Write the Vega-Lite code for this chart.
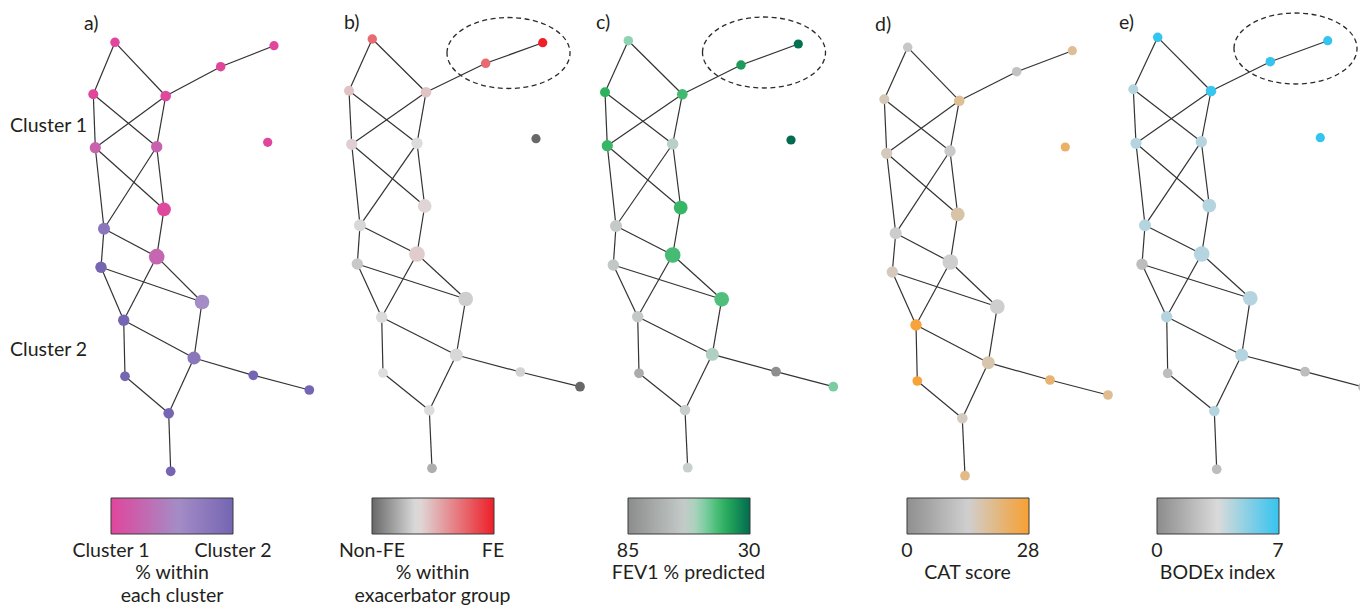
{
"$schema": "https://vega.github.io/schema/vega-lite/v6.json",
"width": 1360, "height": 615,
"autosize": {"type": "fit", "contains": "padding"},
"padding": 0,
"background": "white",
"config": {
  "view": {"stroke": null},
  "font": "Lato",
  "legend": {
    "gradientLength": 122, "gradientThickness": 36,
    "gradientStrokeColor": "#3a3a3a", "gradientStrokeWidth": 1,
    "labelFontSize": 1, "padding": 0
  }
},
"datasets": {
  "nodes": [
    {"p":"a","k":"a1","x":115,"y":42.3,"n":90,"v":0},
    {"p":"a","k":"a2","x":93.3,"y":94.3,"n":100,"v":0},
    {"p":"a","k":"a3","x":165.7,"y":96,"n":113,"v":0.02},
    {"p":"a","k":"a4","x":220.7,"y":66.7,"n":90,"v":0},
    {"p":"a","k":"a5","x":274,"y":45.7,"n":85,"v":0},
    {"p":"a","k":"a6","x":267.7,"y":142.3,"n":85,"v":0},
    {"p":"a","k":"a7","x":95.3,"y":147.7,"n":125,"v":0.21},
    {"p":"a","k":"a8","x":156.7,"y":146.7,"n":130,"v":0.23},
    {"p":"a","k":"a9","x":164,"y":209.3,"n":190,"v":0.02},
    {"p":"a","k":"a10","x":104,"y":228.7,"n":145,"v":0.8},
    {"p":"a","k":"a11","x":156.7,"y":256.7,"n":245,"v":0.26},
    {"p":"a","k":"a12","x":101,"y":267.3,"n":130,"v":1},
    {"p":"a","k":"a13","x":202,"y":302,"n":215,"v":0.55},
    {"p":"a","k":"a14","x":123.7,"y":320.3,"n":130,"v":1},
    {"p":"a","k":"a15","x":194,"y":358,"n":170,"v":0.8},
    {"p":"a","k":"a16","x":125,"y":376.3,"n":95,"v":1},
    {"p":"a","k":"a17","x":253.3,"y":375.3,"n":95,"v":1},
    {"p":"a","k":"a18","x":309.3,"y":390,"n":95,"v":1},
    {"p":"a","k":"a19","x":168.7,"y":413.3,"n":113,"v":1},
    {"p":"a","k":"a20","x":170.7,"y":471.3,"n":95,"v":1},

    {"p":"b","k":"b1","x":372.3,"y":39,"n":90,"v":0.75},
    {"p":"b","k":"b2","x":349,"y":90.7,"n":100,"v":0.456},
    {"p":"b","k":"b3","x":426,"y":92.3,"n":113,"v":0.46},
    {"p":"b","k":"b4","x":485.7,"y":63.3,"n":90,"v":0.75},
    {"p":"b","k":"b5","x":542.7,"y":42.7,"n":85,"v":1},
    {"p":"b","k":"b6","x":536,"y":138.7,"n":85,"v":0},
    {"p":"b","k":"b7","x":351.7,"y":144.3,"n":125,"v":0.42},
    {"p":"b","k":"b8","x":417,"y":143.3,"n":130,"v":0.38},
    {"p":"b","k":"b9","x":424.7,"y":206,"n":190,"v":0.4},
    {"p":"b","k":"b10","x":360,"y":225.3,"n":145,"v":0.35},
    {"p":"b","k":"b11","x":417,"y":254,"n":245,"v":0.43},
    {"p":"b","k":"b12","x":357.3,"y":264,"n":130,"v":0.3},
    {"p":"b","k":"b13","x":465.7,"y":299,"n":215,"v":0.32},
    {"p":"b","k":"b14","x":381.7,"y":317.3,"n":130,"v":0.36},
    {"p":"b","k":"b15","x":456.3,"y":355,"n":170,"v":0.35},
    {"p":"b","k":"b16","x":383,"y":373,"n":95,"v":0.37},
    {"p":"b","k":"b17","x":520.3,"y":372,"n":95,"v":0.337},
    {"p":"b","k":"b18","x":580,"y":386.7,"n":95,"v":0},
    {"p":"b","k":"b19","x":429.3,"y":410.3,"n":113,"v":0.365},
    {"p":"b","k":"b20","x":432,"y":468.3,"n":95,"v":0.218},

    {"p":"c","k":"c1","x":628.3,"y":40.7,"n":90,"v":52},
    {"p":"c","k":"c2","x":605,"y":92.3,"n":100,"v":42},
    {"p":"c","k":"c3","x":682.3,"y":94.3,"n":113,"v":44},
    {"p":"c","k":"c4","x":741,"y":65,"n":90,"v":38},
    {"p":"c","k":"c5","x":798.3,"y":44,"n":85,"v":31},
    {"p":"c","k":"c6","x":791,"y":140,"n":85,"v":30},
    {"p":"c","k":"c7","x":607.3,"y":145.7,"n":125,"v":43},
    {"p":"c","k":"c8","x":672.7,"y":144,"n":130,"v":56.5},
    {"p":"c","k":"c9","x":680.7,"y":207.7,"n":190,"v":43},
    {"p":"c","k":"c10","x":616,"y":226,"n":145,"v":60},
    {"p":"c","k":"c11","x":672.7,"y":255,"n":245,"v":44.5},
    {"p":"c","k":"c12","x":613.3,"y":265,"n":130,"v":61},
    {"p":"c","k":"c13","x":721.7,"y":299.3,"n":215,"v":45.5},
    {"p":"c","k":"c14","x":637.7,"y":316.7,"n":130,"v":60.5},
    {"p":"c","k":"c15","x":712.3,"y":354.3,"n":170,"v":55.5},
    {"p":"c","k":"c16","x":639,"y":373.3,"n":95,"v":72},
    {"p":"c","k":"c17","x":776,"y":371.7,"n":95,"v":84},
    {"p":"c","k":"c18","x":833.3,"y":386.7,"n":95,"v":50},
    {"p":"c","k":"c19","x":685,"y":410,"n":113,"v":58.5},
    {"p":"c","k":"c20","x":687.7,"y":467.7,"n":95,"v":58.2},

    {"p":"d","k":"d1","x":907.7,"y":47.3,"n":90,"v":12.3},
    {"p":"d","k":"d2","x":884.3,"y":99.3,"n":100,"v":16.2},
    {"p":"d","k":"d3","x":959.3,"y":100.7,"n":113,"v":19.2},
    {"p":"d","k":"d4","x":1016.7,"y":71.7,"n":90,"v":11.2},
    {"p":"d","k":"d5","x":1072.3,"y":50.7,"n":85,"v":19},
    {"p":"d","k":"d6","x":1065.3,"y":147,"n":85,"v":23.3},
    {"p":"d","k":"d7","x":886.7,"y":153.3,"n":125,"v":15.8},
    {"p":"d","k":"d8","x":950,"y":151,"n":130,"v":12.7},
    {"p":"d","k":"d9","x":957.7,"y":214.3,"n":190,"v":17.5},
    {"p":"d","k":"d10","x":895.7,"y":233.3,"n":145,"v":13.3},
    {"p":"d","k":"d11","x":950.3,"y":262,"n":245,"v":13.8},
    {"p":"d","k":"d12","x":892.3,"y":272,"n":130,"v":15.7},
    {"p":"d","k":"d13","x":997.3,"y":306.7,"n":215,"v":13.8},
    {"p":"d","k":"d14","x":916,"y":325,"n":130,"v":27.2},
    {"p":"d","k":"d15","x":988.3,"y":362.7,"n":170,"v":17},
    {"p":"d","k":"d16","x":917.3,"y":381,"n":95,"v":27.2},
    {"p":"d","k":"d17","x":1050,"y":380,"n":95,"v":22.2},
    {"p":"d","k":"d18","x":1108,"y":395,"n":95,"v":19.5},
    {"p":"d","k":"d19","x":962.3,"y":418.3,"n":113,"v":15.3},
    {"p":"d","k":"d20","x":965,"y":475.7,"n":95,"v":20.3},

    {"p":"e","k":"e1","x":1157.7,"y":37.3,"n":90,"v":7},
    {"p":"e","k":"e2","x":1133.3,"y":89.3,"n":100,"v":4.3},
    {"p":"e","k":"e3","x":1211,"y":91,"n":113,"v":6.9},
    {"p":"e","k":"e4","x":1270.3,"y":61.7,"n":90,"v":7},
    {"p":"e","k":"e5","x":1327.7,"y":40.7,"n":85,"v":7},
    {"p":"e","k":"e6","x":1320.3,"y":137.7,"n":85,"v":7},
    {"p":"e","k":"e7","x":1136,"y":143.3,"n":125,"v":4.3},
    {"p":"e","k":"e8","x":1201.3,"y":141.7,"n":130,"v":4.3},
    {"p":"e","k":"e9","x":1209.3,"y":205.7,"n":190,"v":4.3},
    {"p":"e","k":"e10","x":1145,"y":225.3,"n":145,"v":4.3},
    {"p":"e","k":"e11","x":1201.7,"y":254,"n":245,"v":4.3},
    {"p":"e","k":"e12","x":1142,"y":264.3,"n":130,"v":2.2},
    {"p":"e","k":"e13","x":1250.3,"y":298.3,"n":215,"v":4.3},
    {"p":"e","k":"e14","x":1166.7,"y":316.7,"n":130,"v":4.3},
    {"p":"e","k":"e15","x":1241.7,"y":355,"n":170,"v":4.3},
    {"p":"e","k":"e16","x":1167.7,"y":373.3,"n":95,"v":2.2},
    {"p":"e","k":"e17","x":1305,"y":371.7,"n":95,"v":2.2},
    {"p":"e","k":"e18","x":1363,"y":387,"n":95,"v":2.2},
    {"p":"e","k":"e19","x":1214.3,"y":411,"n":113,"v":4.3},
    {"p":"e","k":"e20","x":1216.7,"y":469.3,"n":95,"v":2.2}
  ],
  "edges": [
    {"s":"a1","t":"a2"},{"s":"a1","t":"a3"},{"s":"a3","t":"a4"},{"s":"a4","t":"a5"},{"s":"a2","t":"a7"},{"s":"a2","t":"a8"},{"s":"a3","t":"a7"},{"s":"a3","t":"a8"},{"s":"a7","t":"a10"},{"s":"a7","t":"a9"},{"s":"a8","t":"a10"},{"s":"a8","t":"a9"},{"s":"a10","t":"a12"},{"s":"a10","t":"a11"},{"s":"a9","t":"a11"},{"s":"a12","t":"a13"},{"s":"a11","t":"a13"},{"s":"a11","t":"a14"},{"s":"a12","t":"a14"},{"s":"a13","t":"a15"},{"s":"a14","t":"a15"},{"s":"a14","t":"a16"},{"s":"a15","t":"a17"},{"s":"a17","t":"a18"},{"s":"a15","t":"a19"},{"s":"a16","t":"a19"},{"s":"a19","t":"a20"},
    {"s":"b1","t":"b2"},{"s":"b1","t":"b3"},{"s":"b3","t":"b4"},{"s":"b4","t":"b5"},{"s":"b2","t":"b7"},{"s":"b2","t":"b8"},{"s":"b3","t":"b7"},{"s":"b3","t":"b8"},{"s":"b7","t":"b10"},{"s":"b7","t":"b9"},{"s":"b8","t":"b10"},{"s":"b8","t":"b9"},{"s":"b10","t":"b12"},{"s":"b10","t":"b11"},{"s":"b9","t":"b11"},{"s":"b12","t":"b13"},{"s":"b11","t":"b13"},{"s":"b11","t":"b14"},{"s":"b12","t":"b14"},{"s":"b13","t":"b15"},{"s":"b14","t":"b15"},{"s":"b14","t":"b16"},{"s":"b15","t":"b17"},{"s":"b17","t":"b18"},{"s":"b15","t":"b19"},{"s":"b16","t":"b19"},{"s":"b19","t":"b20"},
    {"s":"c1","t":"c2"},{"s":"c1","t":"c3"},{"s":"c3","t":"c4"},{"s":"c4","t":"c5"},{"s":"c2","t":"c7"},{"s":"c2","t":"c8"},{"s":"c3","t":"c7"},{"s":"c3","t":"c8"},{"s":"c7","t":"c10"},{"s":"c7","t":"c9"},{"s":"c8","t":"c10"},{"s":"c8","t":"c9"},{"s":"c10","t":"c12"},{"s":"c10","t":"c11"},{"s":"c9","t":"c11"},{"s":"c12","t":"c13"},{"s":"c11","t":"c13"},{"s":"c11","t":"c14"},{"s":"c12","t":"c14"},{"s":"c13","t":"c15"},{"s":"c14","t":"c15"},{"s":"c14","t":"c16"},{"s":"c15","t":"c17"},{"s":"c17","t":"c18"},{"s":"c15","t":"c19"},{"s":"c16","t":"c19"},{"s":"c19","t":"c20"},
    {"s":"d1","t":"d2"},{"s":"d1","t":"d3"},{"s":"d3","t":"d4"},{"s":"d4","t":"d5"},{"s":"d2","t":"d7"},{"s":"d2","t":"d8"},{"s":"d3","t":"d7"},{"s":"d3","t":"d8"},{"s":"d7","t":"d10"},{"s":"d7","t":"d9"},{"s":"d8","t":"d10"},{"s":"d8","t":"d9"},{"s":"d10","t":"d12"},{"s":"d10","t":"d11"},{"s":"d9","t":"d11"},{"s":"d12","t":"d13"},{"s":"d11","t":"d13"},{"s":"d11","t":"d14"},{"s":"d12","t":"d14"},{"s":"d13","t":"d15"},{"s":"d14","t":"d15"},{"s":"d14","t":"d16"},{"s":"d15","t":"d17"},{"s":"d17","t":"d18"},{"s":"d15","t":"d19"},{"s":"d16","t":"d19"},{"s":"d19","t":"d20"},
    {"s":"e1","t":"e2"},{"s":"e1","t":"e3"},{"s":"e3","t":"e4"},{"s":"e4","t":"e5"},{"s":"e2","t":"e7"},{"s":"e2","t":"e8"},{"s":"e3","t":"e7"},{"s":"e3","t":"e8"},{"s":"e7","t":"e10"},{"s":"e7","t":"e9"},{"s":"e8","t":"e10"},{"s":"e8","t":"e9"},{"s":"e10","t":"e12"},{"s":"e10","t":"e11"},{"s":"e9","t":"e11"},{"s":"e12","t":"e13"},{"s":"e11","t":"e13"},{"s":"e11","t":"e14"},{"s":"e12","t":"e14"},{"s":"e13","t":"e15"},{"s":"e14","t":"e15"},{"s":"e14","t":"e16"},{"s":"e15","t":"e17"},{"s":"e17","t":"e18"},{"s":"e15","t":"e19"},{"s":"e16","t":"e19"},{"s":"e19","t":"e20"}
  ],
  "labels": [
    {"t":"a)","x":84,"y":24},
    {"t":"b)","x":344,"y":23},
    {"t":"c)","x":596,"y":23},
    {"t":"d)","x":875,"y":25},
    {"t":"e)","x":1119,"y":23},
    {"t":"Cluster 1","x":10,"y":126},
    {"t":"Cluster 2","x":10,"y":350}
  ],
  "legendText": [
    {"t":"Cluster 1","x":111,"y":556.5},
    {"t":"Cluster 2","x":233,"y":556.5},
    {"t":"% within","x":172,"y":579},
    {"t":"each cluster","x":172,"y":601.5},
    {"t":"Non-FE","x":372,"y":556.5},
    {"t":"FE","x":493,"y":556.5},
    {"t":"% within","x":432.5,"y":579},
    {"t":"exacerbator group","x":432.5,"y":601.5},
    {"t":"85","x":628,"y":556.5},
    {"t":"30","x":749,"y":556.5},
    {"t":"FEV1 % predicted","x":688.5,"y":579},
    {"t":"0","x":907,"y":556.5},
    {"t":"28","x":1028,"y":556.5},
    {"t":"CAT score","x":967.5,"y":579},
    {"t":"0","x":1157,"y":556.5},
    {"t":"7","x":1278,"y":556.5},
    {"t":"BODEx index","x":1217.5,"y":579}
  ],
  "rings": [
    {"p":"b","x":508.5,"y":53},
    {"p":"c","x":764,"y":52.5},
    {"p":"e","x":1295.5,"y":48.5}
  ]
},
"layer": [
  {
    "data": {"name": "edges"},
    "transform": [
      {"lookup": "s", "from": {"data": {"name": "nodes"}, "key": "k", "fields": ["x", "y"]}, "as": ["x1", "y1"]},
      {"lookup": "t", "from": {"data": {"name": "nodes"}, "key": "k", "fields": ["x", "y"]}, "as": ["x2", "y2"]}
    ],
    "mark": {"type": "rule", "color": "#333333", "strokeWidth": 1.2, "clip": true},
    "encoding": {
      "x": {"field": "x1", "type": "quantitative", "scale": {"domain": [0, 1360], "nice": false, "zero": false}, "axis": null},
      "y": {"field": "y1", "type": "quantitative", "scale": {"domain": [0, 615], "nice": false, "zero": false, "reverse": true}, "axis": null},
      "x2": {"field": "x2"},
      "y2": {"field": "y2"}
    }
  },
  {
    "data": {"name": "rings"},
    "mark": {"type": "point", "shape": "M-1,0C-1,-0.319,-0.552,-0.577,0,-0.577C0.552,-0.577,1,-0.319,1,0C1,0.319,0.552,0.577,0,0.577C-0.552,0.577,-1,0.319,-1,0Z", "size": 15129, "filled": false, "stroke": "#2a2a2a", "strokeWidth": 1.3, "strokeDash": [5, 3.5], "opacity": 1},
    "encoding": {
      "x": {"field": "x", "type": "quantitative", "axis": null},
      "y": {"field": "y", "type": "quantitative", "axis": null}
    }
  },
  {
    "data": {"name": "nodes"},
    "transform": [{"filter": "datum.p === 'a'"}],
    "mark": {"type": "circle", "opacity": 1, "clip": true},
    "encoding": {
      "x": {"field": "x", "type": "quantitative", "axis": null},
      "y": {"field": "y", "type": "quantitative", "axis": null},
      "size": {"field": "n", "type": "quantitative", "scale": {"domain": [0, 250], "range": [0, 250]}, "legend": null},
      "color": {"field": "v", "type": "quantitative",
        "scale": {"domain": [0, 0.55, 1], "range": ["#e0469c", "#a48cc6", "#7565b3"], "interpolate": "rgb"},
        "legend": {"orient": "none", "direction": "horizontal", "legendX": 111, "legendY": 498, "values": [0, 1], "labelExpr": "''", "title": null}}
    }
  },
  {
    "data": {"name": "nodes"},
    "transform": [{"filter": "datum.p === 'b'"}],
    "mark": {"type": "circle", "opacity": 1, "clip": true},
    "encoding": {
      "x": {"field": "x", "type": "quantitative", "axis": null},
      "y": {"field": "y", "type": "quantitative", "axis": null},
      "size": {"field": "n", "type": "quantitative", "legend": null},
      "color": {"field": "v", "type": "quantitative",
        "scale": {"domain": [0, 0.37, 1], "range": ["#686868", "#dedede", "#ee1f29"], "interpolate": "rgb"},
        "legend": {"orient": "none", "direction": "horizontal", "legendX": 372, "legendY": 498, "values": [0, 1], "labelExpr": "''", "title": null}}
    }
  },
  {
    "data": {"name": "nodes"},
    "transform": [{"filter": "datum.p === 'c'"}],
    "mark": {"type": "circle", "opacity": 1, "clip": true},
    "encoding": {
      "x": {"field": "x", "type": "quantitative", "axis": null},
      "y": {"field": "y", "type": "quantitative", "axis": null},
      "size": {"field": "n", "type": "quantitative", "legend": null},
      "color": {"field": "v", "type": "quantitative",
        "scale": {"domain": [85, 58, 52, 42, 30], "range": ["#8c8c8c", "#c8cfcc", "#8fd4b2", "#2db35e", "#006b4f"], "interpolate": "rgb"},
        "legend": {"orient": "none", "direction": "horizontal", "legendX": 628, "legendY": 498, "values": [85, 30], "labelExpr": "''", "title": null}}
    }
  },
  {
    "data": {"name": "nodes"},
    "transform": [{"filter": "datum.p === 'd'"}],
    "mark": {"type": "circle", "opacity": 1, "clip": true},
    "encoding": {
      "x": {"field": "x", "type": "quantitative", "axis": null},
      "y": {"field": "y", "type": "quantitative", "axis": null},
      "size": {"field": "n", "type": "quantitative", "legend": null},
      "color": {"field": "v", "type": "quantitative",
        "scale": {"domain": [0, 14, 28], "range": ["#8f8f8f", "#cfcfcf", "#f7a031"], "interpolate": "rgb"},
        "legend": {"orient": "none", "direction": "horizontal", "legendX": 907, "legendY": 498, "values": [0, 28], "labelExpr": "''", "title": null}}
    }
  },
  {
    "data": {"name": "nodes"},
    "transform": [{"filter": "datum.p === 'e'"}],
    "mark": {"type": "circle", "opacity": 1, "clip": true},
    "encoding": {
      "x": {"field": "x", "type": "quantitative", "axis": null},
      "y": {"field": "y", "type": "quantitative", "axis": null},
      "size": {"field": "n", "type": "quantitative", "legend": null},
      "color": {"field": "v", "type": "quantitative",
        "scale": {"domain": [0, 3.5, 7], "range": ["#8c8c8c", "#dadada", "#35c4ef"], "interpolate": "rgb"},
        "legend": {"orient": "none", "direction": "horizontal", "legendX": 1157, "legendY": 498, "values": [0, 7], "labelExpr": "''", "title": null}}
    }
  },
  {
    "data": {"name": "labels"},
    "mark": {"type": "text", "align": "left", "baseline": "middle", "fontSize": 19.5, "font": "Lato", "color": "#231f20"},
    "encoding": {
      "x": {"field": "x", "type": "quantitative", "axis": null},
      "y": {"field": "y", "type": "quantitative", "axis": null},
      "text": {"field": "t", "type": "nominal"}
    }
  },
  {
    "data": {"name": "legendText"},
    "mark": {"type": "text", "align": "center", "baseline": "alphabetic", "fontSize": 19.5, "font": "Lato", "color": "#231f20"},
    "encoding": {
      "x": {"field": "x", "type": "quantitative", "axis": null},
      "y": {"field": "y", "type": "quantitative", "axis": null},
      "text": {"field": "t", "type": "nominal"}
    }
  }
],
"resolve": {"scale": {"color": "independent"}}
}
